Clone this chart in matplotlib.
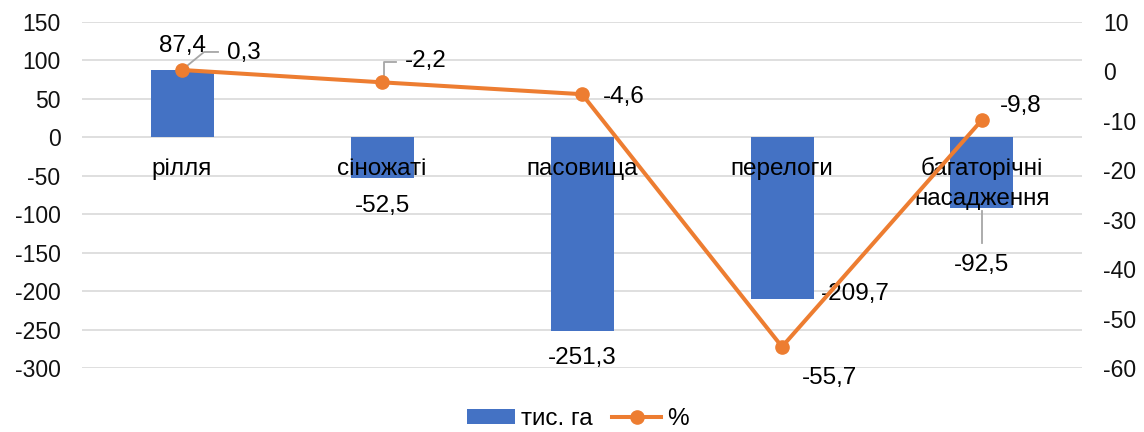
import matplotlib.pyplot as plt
import numpy as np

plt.rcParams['font.family'] = ['Liberation Sans', 'DejaVu Sans']
plt.rcParams['axes.unicode_minus'] = False

categories = ['рілля', 'сіножаті', 'пасовища', 'перелоги', 'багаторічні\nнасадження']
area_ths_ha = [87.4, -52.5, -251.3, -209.7, -92.5]
change_pct = [0.3, -2.2, -4.6, -55.7, -9.8]

blue = '#4472C4'
orange = '#ED7D31'
grey = '#a6a6a6'
x = np.arange(len(categories))

fig = plt.figure(figsize=(11.44, 4.32), dpi=100)
ax = fig.add_axes([0.0717, 0.1481, 0.8741, 0.8009])
ax2 = ax.twinx()

bars = ax.bar(x, area_ths_ha, width=0.315, color=blue, label='тис. га', zorder=2)
ax.set_ylim(-300, 150)
ax.set_yticks(np.arange(-300, 151, 50))
ax.set_xlim(-0.5, len(categories) - 0.5)
ax.grid(axis='y', color='#d9d9d9', linewidth=1.2, zorder=0)
ax.set_axisbelow(True)
ax.set_xticks([])

line, = ax2.plot(x, change_pct, color=orange, linewidth=2.9, marker='o',
                 markersize=9.5, label='%', zorder=3)
ax2.set_ylim(-60, 10)
ax2.set_yticks(np.arange(-60, 11, 10))

for a in (ax, ax2):
    for s in a.spines.values():
        s.set_visible(False)
    a.tick_params(length=0, labelsize=16.5, colors='#111111')
ax.tick_params(axis='y', pad=15.5)
ax2.tick_params(axis='y', pad=15)

# category labels sit under the zero line, one line of text at a time
for i, c in enumerate(categories):
    for j, part in enumerate(c.split('\n')):
        ax.annotate(part, (i, -49), xytext=(0, -30 * j), textcoords='offset pixels',
                    ha='center', va='baseline', fontsize=17.5, zorder=4)

fmt = lambda v: f'{v:.1f}'.replace('.', ',')


def leader(a, xi, v, offs):
    # grey leader line, offsets in pixels from the data point
    px, py = a.transData.transform((xi, v))
    pts = a.transData.inverted().transform([(px + dx, py + dy) for dx, dy in offs])
    a.plot(pts[:, 0], pts[:, 1], color=grey, lw=1.3, zorder=2.5)


# bar value labels (offsets in pixels)
bar_offsets = [(0, 24), (0, -28), (0, -27), (73, 5), (0, -57)]
for i, v in enumerate(area_ths_ha):
    dx, dy = bar_offsets[i]
    ax.annotate(fmt(v), (x[i], v), xytext=(dx, dy), textcoords='offset pixels',
                ha='center', va='center', fontsize=17.5, zorder=5)
leader(ax, x[4], area_ths_ha[4], [(0, -3), (0, -35)])

# line value labels
pct_offsets = [(62, 17), (44, 21), (42, -3), (47, -31), (39, 14)]
for i, v in enumerate(change_pct):
    dx, dy = pct_offsets[i]
    ax2.annotate(fmt(v), (x[i], v), xytext=(dx, dy), textcoords='offset pixels',
                 ha='center', va='center', fontsize=17.5, zorder=5)
leader(ax2, x[0], change_pct[0], [(0, 0), (22, 18), (36, 18)])
leader(ax2, x[1], change_pct[1], [(2, 0), (2, 20), (14, 20)])

fig.legend(handles=[bars, line], loc='center', ncol=2, frameon=False,
           fontsize=17.5, bbox_to_anchor=(0.505, 0.03), handlelength=2.0,
           columnspacing=0.8, handletextpad=0.25, handleheight=0.6)

fig.savefig('out.png', dpi=100)
